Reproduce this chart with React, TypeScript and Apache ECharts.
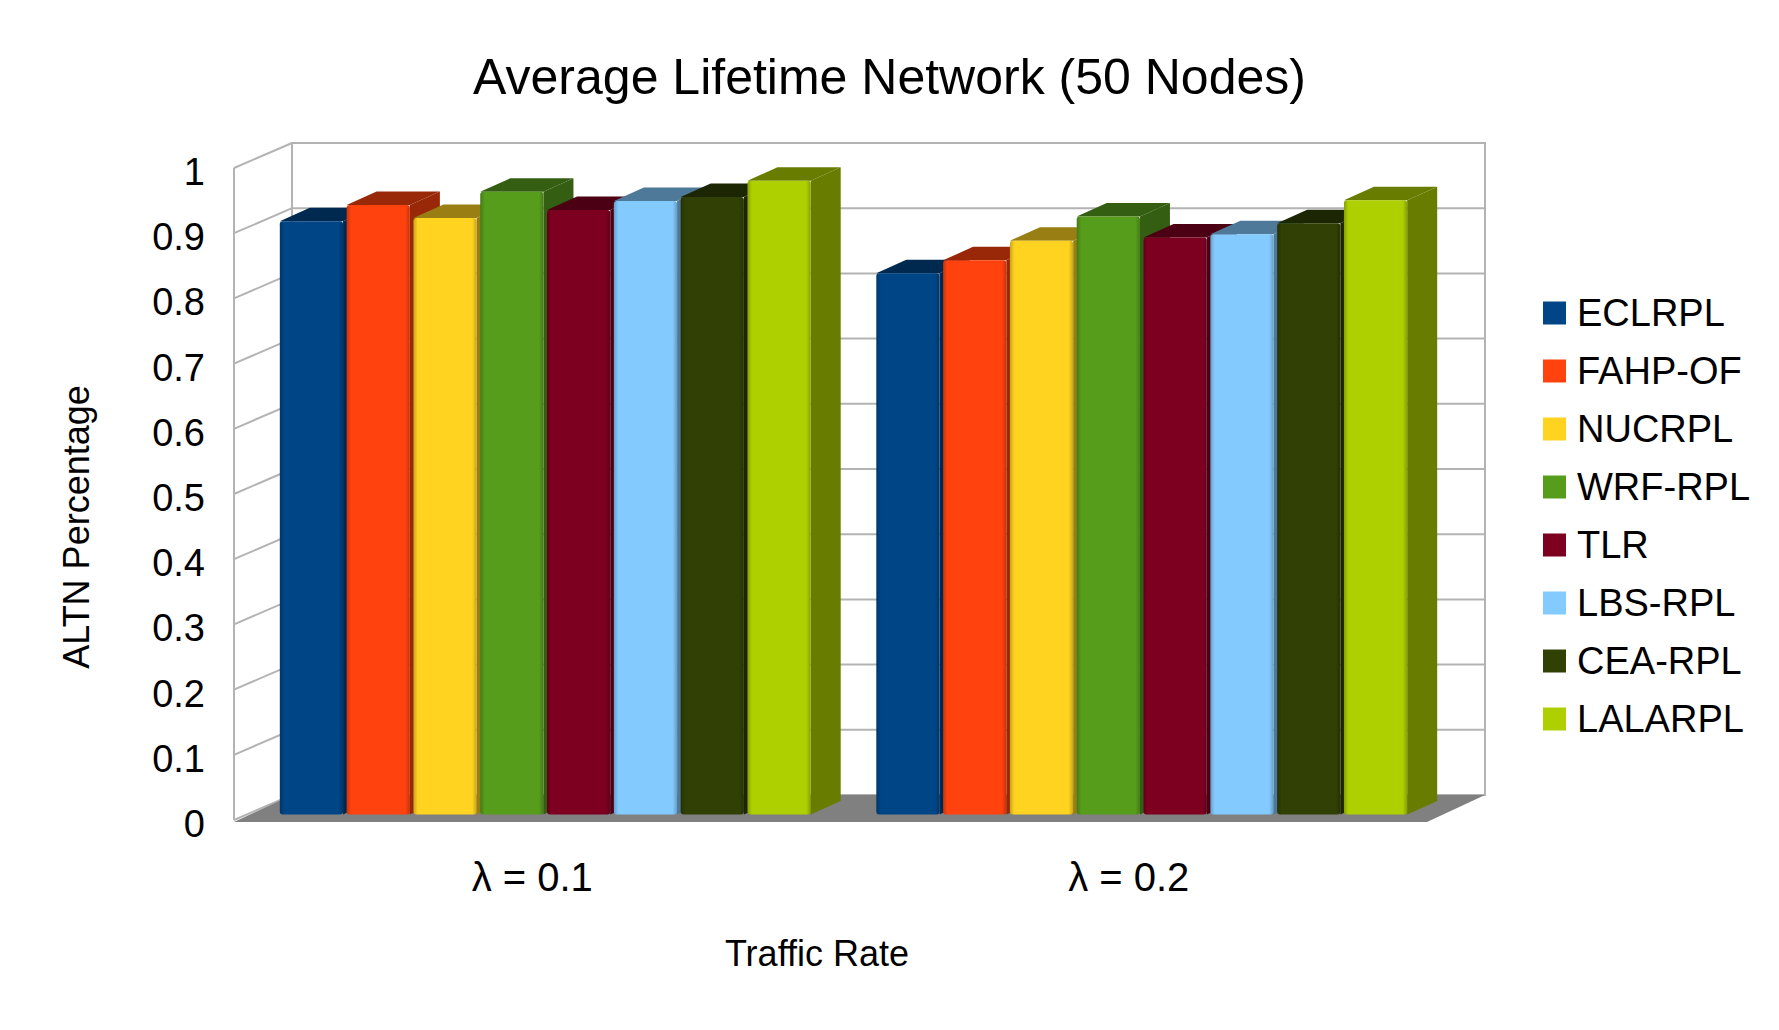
import React, { useEffect, useRef } from "react";
import * as echarts from "echarts";

// ---------- data ----------
const CATEGORIES = ["λ = 0.1", "λ = 0.2"];
const SERIES_NAMES = ["ECLRPL", "FAHP-OF", "NUCRPL", "WRF-RPL", "TLR", "LBS-RPL", "CEA-RPL", "LALARPL"];
const ECLRPL = [0.91, 0.83];
const FAHP_OF = [0.935, 0.85];
const NUCRPL = [0.915, 0.88];
const WRF_RPL = [0.955, 0.917];
const TLR = [0.927, 0.885];
const LBS_RPL = [0.941, 0.89];
const CEA_RPL = [0.947, 0.907];
const LALARPL = [0.972, 0.942];
const SERIES_VALUES = [ECLRPL, FAHP_OF, NUCRPL, WRF_RPL, TLR, LBS_RPL, CEA_RPL, LALARPL];
const Y_TICKS = [0, 0.1, 0.2, 0.3, 0.4, 0.5, 0.6, 0.7, 0.8, 0.9, 1];
const COLORS = ["#004586", "#ff420e", "#ffd320", "#579d1c", "#7e0021", "#83caff", "#314004", "#aecf00"];

// ---------- 3D look (styles) ----------
const BACK_DX = 58;
const BACK_DY = -25;
const PLANE_DX = 13;
const PLANE_DY = -5.5;
const BAR_DX = 30;
const BAR_DY = -13.5;
const BAR_PITCH = 0.112;
const BAR_WIDTH = 0.106;
const GRID_COLOR = "#b3b3b3";
const FONT = "Liberation Sans";

function shade(hex: string, f: number) {
  const n = parseInt(hex.slice(1), 16);
  const r = Math.round(((n >> 16) & 255) * f);
  const g = Math.round(((n >> 8) & 255) * f);
  const b = Math.round((n & 255) * f);
  return `rgb(${r},${g},${b})`;
}

function makeBarRender(s: number, count: number) {
  return (params: any, api: any) => {
    const cat = api.value(0);
    const v = api.value(1);
    const p0 = api.coord([cat, 0]);
    const p1 = api.coord([cat, v]);
    const band = api.size([1, 0])[0];
    const pitch = band * BAR_PITCH;
    const w = band * BAR_WIDTH;
    const cx = p0[0] + (s - (count - 1) / 2) * pitch + PLANE_DX;
    const x0 = cx - w / 2;
    const x1 = cx + w / 2;
    const yb = p0[1] + PLANE_DY;
    const yt = p1[1] + PLANE_DY;
    const base = COLORS[s];
    const dark = shade(base, 0.6);
    const edge = shade(base, 0.78);
    return {
      type: "group",
      children: [
        {
          type: "polygon",
          shape: { points: [[x1, yb], [x1 + BAR_DX, yb + BAR_DY], [x1 + BAR_DX, yt + BAR_DY], [x1, yt]] },
          style: { fill: dark },
        },
        {
          type: "polygon",
          shape: { points: [[x0, yt], [x1, yt], [x1 + BAR_DX, yt + BAR_DY], [x0 + BAR_DX, yt + BAR_DY]] },
          style: { fill: dark },
        },
        {
          type: "rect",
          shape: { x: x0, y: yt, width: w, height: yb - yt, r: [3, 3, 3, 3] },
          style: {
            fill: new echarts.graphic.LinearGradient(0, 0, 1, 0, [
              { offset: 0, color: edge },
              { offset: 0.07, color: base },
              { offset: 0.93, color: base },
              { offset: 1, color: edge },
            ]),
          },
        },
      ],
    };
  };
}

function renderWalls(params: any, api: any) {
  const cs = params.coordSys;
  const L = cs.x;
  const R = cs.x + cs.width;
  const yOf = (v: number) => api.coord([0, v])[1];
  const Y0 = yOf(Y_TICKS[0]);
  const Y1 = yOf(Y_TICKS[Y_TICKS.length - 1]);
  const line = (x1: number, y1: number, x2: number, y2: number) => ({
    type: "line",
    shape: { x1, y1, x2, y2 },
    style: { stroke: GRID_COLOR, lineWidth: 2 },
  });
  const children: any[] = [];
  children.push({
    type: "rect",
    shape: { x: L + BACK_DX, y: Y1 + BACK_DY, width: R - L, height: Y0 - Y1 },
    style: { fill: "#ffffff", stroke: GRID_COLOR, lineWidth: 2 },
  });
  Y_TICKS.forEach((t) => {
    const y = yOf(t);
    children.push(line(L + BACK_DX, y + BACK_DY, R + BACK_DX, y + BACK_DY));
    children.push(line(L, y, L + BACK_DX, y + BACK_DY));
  });
  children.push(line(L, Y1, L, Y0));
  children.push({
    type: "polygon",
    shape: { points: [[L, Y0 + 2], [R, Y0 + 2], [R + BACK_DX, Y0 + BACK_DY], [L + BACK_DX, Y0 + BACK_DY]] },
    style: { fill: "#808080" },
  });
  return { type: "group", children };
}

export default function App() {
  const ref = useRef<HTMLDivElement>(null);
  useEffect(() => {
    if (!ref.current) return;
    const chart = echarts.init(ref.current, undefined, { renderer: "svg" });
    const barSeries = SERIES_NAMES.map((name, s) => ({
      name,
      type: "custom",
      z: 3,
      clip: false,
      itemStyle: { color: COLORS[s] },
      renderItem: makeBarRender(s, SERIES_NAMES.length),
      data: SERIES_VALUES[s].map((v, i) => [i, v]),
    }));
    chart.setOption({
      animation: false,
      color: COLORS,
      textStyle: { fontFamily: FONT },
      title: {
        text: "Average Lifetime Network (50 Nodes)",
        left: "center",
        top: 47,
        textStyle: { fontFamily: FONT, fontSize: 50, fontWeight: "normal", color: "#000", lineHeight: 50 },
      },
      legend: {
        orient: "vertical",
        left: 1538,
        top: 289,
        data: SERIES_NAMES,
        icon: "rect",
        itemWidth: 23,
        itemHeight: 23,
        itemGap: 20,
        selectedMode: false,
        textStyle: { fontFamily: FONT, fontSize: 38, color: "#000", lineHeight: 38, padding: [0, 0, 0, 6] },
      },
      grid: { left: 234, right: 352, top: 168, bottom: 210, containLabel: false },
      xAxis: {
        type: "category",
        data: CATEGORIES,
        axisLine: { show: false },
        axisTick: { show: false },
        splitLine: { show: false },
        axisLabel: { fontFamily: FONT, fontSize: 40, color: "#000", margin: 37, lineHeight: 40 },
        name: "Traffic Rate",
        nameLocation: "middle",
        nameGap: 115,
        nameTextStyle: { fontFamily: FONT, fontSize: 36, color: "#000", lineHeight: 36, padding: [0, 27, 0, 0] },
      },
      yAxis: {
        type: "value",
        min: 0,
        max: 1,
        interval: 0.1,
        axisLine: { show: false },
        axisTick: { show: false },
        splitLine: { show: false },
        axisLabel: {
          fontFamily: FONT,
          fontSize: 38,
          color: "#000",
          margin: 29,
          verticalAlign: "top",
          lineHeight: 8,
        },
      },
      graphic: [
        {
          type: "text",
          x: 76,
          y: 527,
          rotation: Math.PI / 2,
          style: {
            text: "ALTN Percentage",
            fontFamily: FONT,
            fontSize: 36,
            fill: "#000",
            align: "center",
            verticalAlign: "middle",
          },
        },
      ],
      series: [
        {
          name: "walls",
          type: "custom",
          z: 1,
          silent: true,
          clip: false,
          renderItem: renderWalls,
          data: [[0, 0]],
        },
        ...barSeries,
      ],
    });
    return () => chart.dispose();
  }, []);
  return <div ref={ref} style={{ position: "fixed", left: 0, top: 0, width: 1779, height: 1030, background: "#fff" }} />;
}
